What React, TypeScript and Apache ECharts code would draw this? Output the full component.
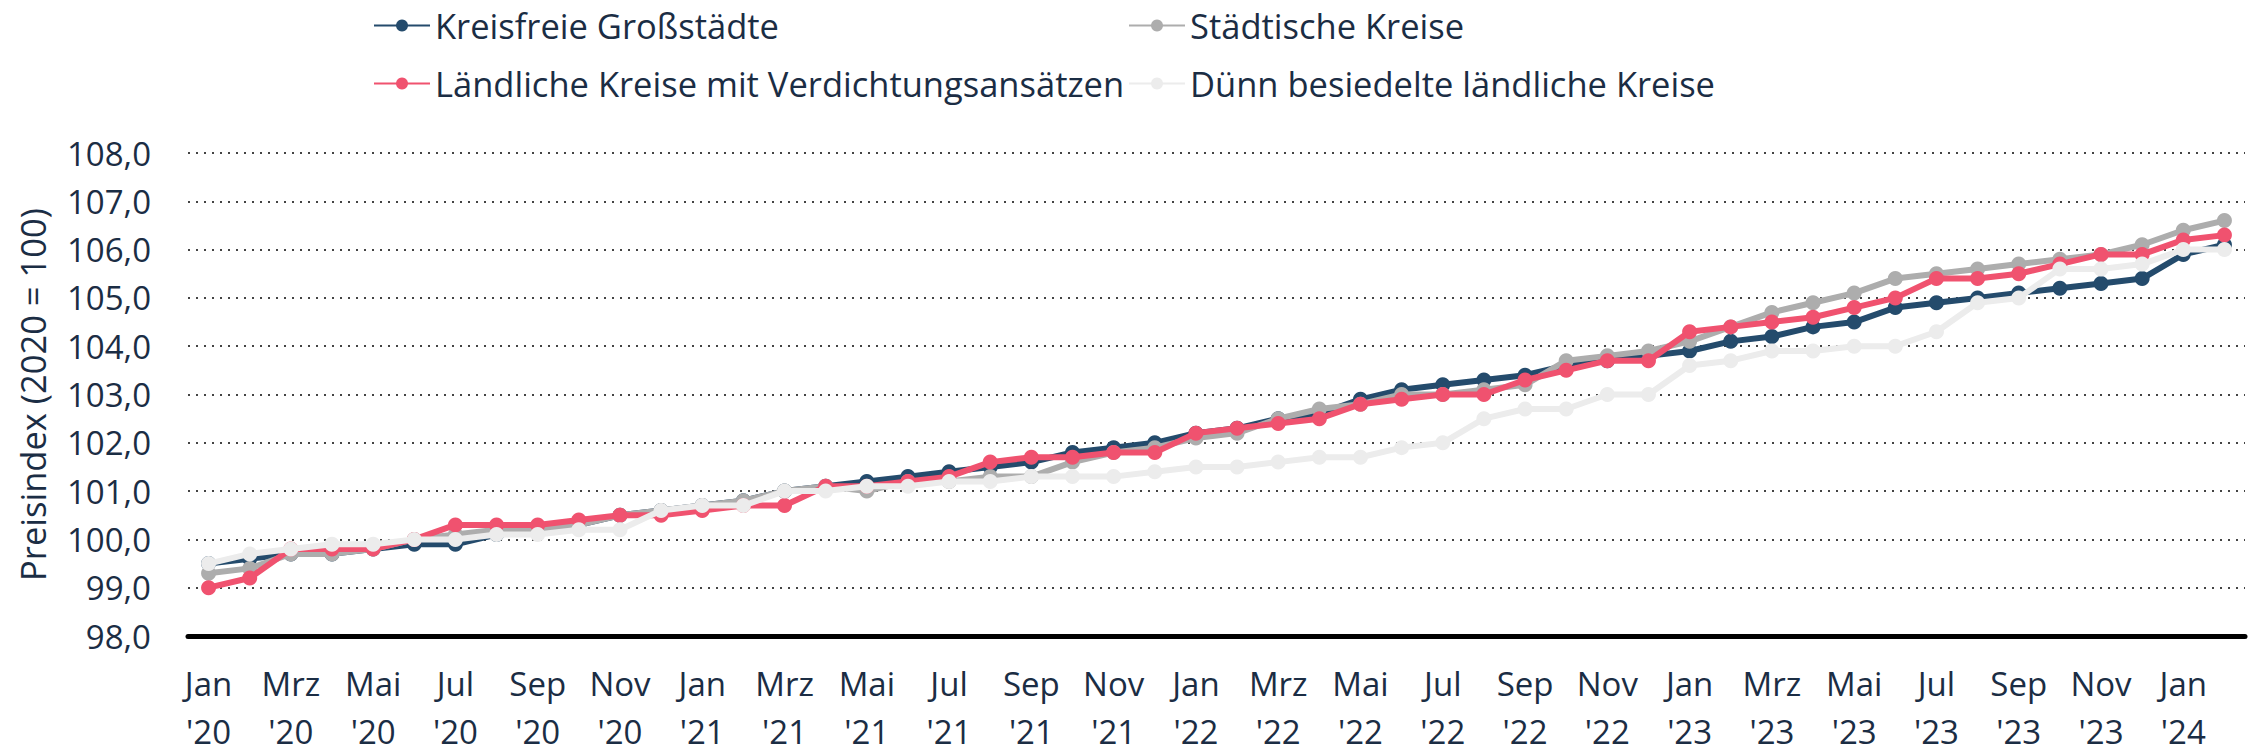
import React, { useEffect, useRef } from "react";
import * as echarts from "echarts";

const categories = [
  "Jan '20", "Feb '20", "Mrz '20", "Apr '20", "Mai '20", "Jun '20", "Jul '20", "Aug '20", "Sep '20", "Okt '20", "Nov '20", "Dez '20",
  "Jan '21", "Feb '21", "Mrz '21", "Apr '21", "Mai '21", "Jun '21", "Jul '21", "Aug '21", "Sep '21", "Okt '21", "Nov '21", "Dez '21",
  "Jan '22", "Feb '22", "Mrz '22", "Apr '22", "Mai '22", "Jun '22", "Jul '22", "Aug '22", "Sep '22", "Okt '22", "Nov '22", "Dez '22",
  "Jan '23", "Feb '23", "Mrz '23", "Apr '23", "Mai '23", "Jun '23", "Jul '23", "Aug '23", "Sep '23", "Okt '23", "Nov '23", "Dez '23",
  "Jan '24", "Feb '24",
];

const kreisfreieGrossstaedte = [
  99.5, 99.6, 99.7, 99.7, 99.8, 99.9, 99.9, 100.1, 100.2, 100.3, 100.5, 100.6,
  100.7, 100.8, 101.0, 101.1, 101.2, 101.3, 101.4, 101.5, 101.6, 101.8, 101.9, 102.0,
  102.2, 102.3, 102.5, 102.6, 102.9, 103.1, 103.2, 103.3, 103.4, 103.6, 103.7, 103.8,
  103.9, 104.1, 104.2, 104.4, 104.5, 104.8, 104.9, 105.0, 105.1, 105.2, 105.3, 105.4,
  105.9, 106.1,
];

const staedtischeKreise = [
  99.3, 99.4, 99.7, 99.7, 99.8, 100.0, 100.1, 100.2, 100.2, 100.3, 100.5, 100.6,
  100.7, 100.8, 101.0, 101.1, 101.0, 101.2, 101.2, 101.3, 101.3, 101.6, 101.8, 101.9,
  102.1, 102.2, 102.5, 102.7, 102.8, 103.0, 103.0, 103.1, 103.2, 103.7, 103.8, 103.9,
  104.1, 104.4, 104.7, 104.9, 105.1, 105.4, 105.5, 105.6, 105.7, 105.8, 105.9, 106.1,
  106.4, 106.6,
];

const laendlicheKreiseVerdichtung = [
  99.0, 99.2, 99.8, 99.8, 99.8, 100.0, 100.3, 100.3, 100.3, 100.4, 100.5, 100.5,
  100.6, 100.7, 100.7, 101.1, 101.1, 101.2, 101.3, 101.6, 101.7, 101.7, 101.8, 101.8,
  102.2, 102.3, 102.4, 102.5, 102.8, 102.9, 103.0, 103.0, 103.3, 103.5, 103.7, 103.7,
  104.3, 104.4, 104.5, 104.6, 104.8, 105.0, 105.4, 105.4, 105.5, 105.7, 105.9, 105.9,
  106.2, 106.3,
];

const duennBesiedelteKreise = [
  99.5, 99.7, 99.8, 99.9, 99.9, 100.0, 100.0, 100.1, 100.1, 100.2, 100.2, 100.6,
  100.7, 100.7, 101.0, 101.0, 101.1, 101.1, 101.2, 101.2, 101.3, 101.3, 101.3, 101.4,
  101.5, 101.5, 101.6, 101.7, 101.7, 101.9, 102.0, 102.5, 102.7, 102.7, 103.0, 103.0,
  103.6, 103.7, 103.9, 103.9, 104.0, 104.0, 104.3, 104.9, 105.0, 105.6, 105.6, 105.7,
  106.0, 106.0,
];

const seriesNames = [
  "Kreisfreie Großstädte",
  "Städtische Kreise",
  "Ländliche Kreise mit Verdichtungsansätzen",
  "Dünn besiedelte ländliche Kreise",
];
const seriesColors = ["#244b6c", "#adadad", "#f0526f", "#ececec"];
const seriesData = [
  kreisfreieGrossstaedte,
  staedtischeKreise,
  laendlicheKreiseVerdichtung,
  duennBesiedelteKreise,
];

const yMin = 98;
const yMax = 108;
const yInterval = 1;

const textColor = "#1b2d44";
const fontFamily = "'Open Sans', 'Noto Sans', sans-serif";
const tickFontSize = 33;
const bigFontSize = 34.5;

export default function App() {
  const ref = useRef<HTMLDivElement>(null);

  useEffect(() => {
    if (!ref.current) return;
    const chart = echarts.init(ref.current, null, { renderer: "svg" });

    const legendPos = [
      { left: 373, top: 8 },
      { left: 1128, top: 8 },
      { left: 373, top: 66 },
      { left: 1128, top: 66 },
    ];

    chart.setOption({
      animation: false,
      backgroundColor: "#ffffff",
      textStyle: { fontFamily },
      legend: seriesNames.map((name, i) => ({
        data: [name],
        left: legendPos[i].left,
        top: legendPos[i].top,
        padding: 0,
        itemWidth: 56,
        itemHeight: 15,
        itemGap: 0,
        textStyle: { color: textColor, fontSize: bigFontSize, fontFamily },
        selectedMode: false,
      })),
      grid: { left: 188, right: 7, top: 153, bottom: 113, containLabel: false },
      xAxis: {
        type: "category",
        data: categories,
        boundaryGap: true,
        axisLine: { show: true, lineStyle: { color: "#000000", width: 5 } },
        axisTick: { show: false },
        axisLabel: {
          interval: 1,
          margin: 23,
          color: textColor,
          fontSize: tickFontSize,
          fontFamily,
          lineHeight: 48,
          formatter: (v: string) => v.replace(" ", "\n"),
        },
        splitLine: { show: false },
      },
      yAxis: {
        type: "value",
        min: yMin,
        max: yMax,
        interval: yInterval,
        name: "Preisindex (2020 = 100)",
        nameLocation: "middle",
        nameGap: 138,
        nameRotate: 90,
        nameTextStyle: { color: textColor, fontSize: bigFontSize, fontFamily },
        axisLine: { show: false },
        axisTick: { show: false },
        axisLabel: {
          margin: 37,
          color: textColor,
          fontSize: tickFontSize,
          fontFamily,
          formatter: (v: number) => v.toFixed(1).replace(".", ","),
        },
        splitLine: {
          show: true,
          lineStyle: { color: "#444444", width: 2, type: [2, 6] },
        },
      },
      series: seriesNames.map((name, i) => ({
        name,
        type: "line",
        data: seriesData[i],
        symbol: "circle",
        symbolSize: 15,
        showSymbol: true,
        lineStyle: { color: seriesColors[i], width: 6 },
        itemStyle: { color: seriesColors[i] },
        z: 2 + i,
      })),
    });

    return () => chart.dispose();
  }, []);

  return (
    <div
      ref={ref}
      style={{ position: "fixed", left: 0, top: 0, width: 2252, height: 755 }}
    />
  );
}
